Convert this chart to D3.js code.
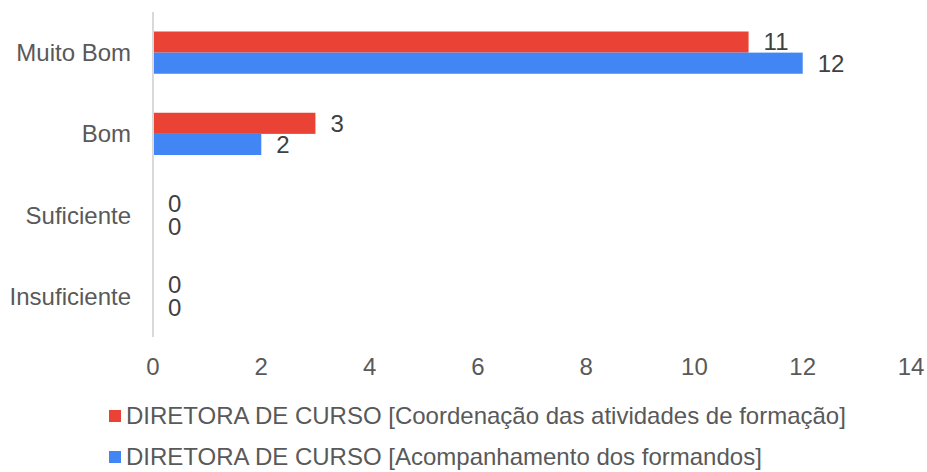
<!DOCTYPE html>
<html>
<head>
<meta charset="utf-8">
<script src="https://cdn.jsdelivr.net/npm/d3@7"></script>
<style>
  body { margin: 0; background: #fff; }
  svg text { font-family: "Liberation Sans", Arial, sans-serif; }
</style>
</head>
<body>
<div id="chart"></div>
<script>
const categories = ['Muito Bom', 'Bom', 'Suficiente', 'Insuficiente'];
const seriesNames = [
    'DIRETORA DE CURSO [Coordenação das atividades de formação]',
    'DIRETORA DE CURSO [Acompanhamento dos formandos]'
];
const coordenacao = [11, 3, 0, 0];
const acompanhamento = [12, 2, 0, 0];
const xTicks = [0, 2, 4, 6, 8, 10, 12, 14];
const colors = ['#ea4335', '#4285f4'];

const width = 927, height = 472;
const margin = { top: 12, right: 16, bottom: 135, left: 153 };
const innerW = width - margin.left - margin.right;
const innerH = height - margin.top - margin.bottom;
const fontSize = 24;

const svg = d3.select('#chart').append('svg')
    .attr('width', width)
    .attr('height', height);

const g = svg.append('g')
    .attr('transform', `translate(${margin.left},${margin.top})`);

const x = d3.scaleLinear().domain([0, 14]).range([0, innerW]);
const y = d3.scaleBand().domain(categories).range([0, innerH]).paddingInner(0.48).paddingOuter(0.24);
const sub = d3.scaleBand().domain([0, 1]).range([0, y.bandwidth()]);

const data = categories.map((c, i) => ({ cat: c, values: [coordenacao[i], acompanhamento[i]] }));

// bars
const groups = g.selectAll('.grp')
    .data(data)
    .enter().append('g')
    .attr('class', 'grp')
    .attr('transform', d => `translate(0,${y(d.cat)})`);

groups.selectAll('rect')
    .data(d => d.values.map((v, s) => ({ v, s })))
    .enter().append('rect')
    .attr('x', 0)
    .attr('y', d => sub(d.s))
    .attr('width', d => x(d.v))
    .attr('height', sub.bandwidth())
    .attr('fill', d => colors[d.s]);

// value labels (zeros stack tightly, as in the original)
groups.selectAll('.label')
    .data(d => d.values.map((v, s) => ({ v, s })))
    .enter().append('text')
    .attr('class', 'label')
    .attr('x', d => x(d.v) + 15)
    .attr('y', d => sub(d.s) + sub.bandwidth() / 2 + (d.v === 0 ? (d.s ? 1 : -1) : 0))
    .attr('dy', '.35em')
    .attr('font-size', fontSize)
    .attr('fill', '#404040')
    .text(d => d.v);

// y axis line
g.append('line')
    .attr('x1', 0).attr('x2', 0)
    .attr('y1', 0).attr('y2', innerH)
    .attr('stroke', '#d9d9d9')
    .attr('stroke-width', 2);

// category labels
g.selectAll('.cat')
    .data(categories)
    .enter().append('text')
    .attr('class', 'cat')
    .attr('x', -22)
    .attr('y', d => y(d) + y.bandwidth() / 2)
    .attr('dy', '.35em')
    .attr('text-anchor', 'end')
    .attr('font-size', fontSize)
    .attr('fill', '#595959')
    .text(d => d);

// x tick labels
g.selectAll('.tick')
    .data(xTicks)
    .enter().append('text')
    .attr('class', 'tick')
    .attr('x', d => x(d))
    .attr('y', innerH + 30)
    .attr('dy', '.35em')
    .attr('text-anchor', 'middle')
    .attr('font-size', fontSize)
    .attr('fill', '#595959')
    .text(d => d);

// legend
const legend = svg.selectAll('.legend')
    .data(seriesNames)
    .enter().append('g')
    .attr('class', 'legend')
    .attr('transform', (d, i) => `translate(109,${416 + i * 41})`);

legend.append('rect')
    .attr('x', 0).attr('y', -6)
    .attr('width', 12).attr('height', 12)
    .attr('fill', (d, i) => colors[i]);

legend.append('text')
    .attr('x', 17)
    .attr('dy', '.35em')
    .attr('font-size', fontSize)
    .attr('fill', '#595959')
    .text(d => d);
</script>
</body>
</html>
